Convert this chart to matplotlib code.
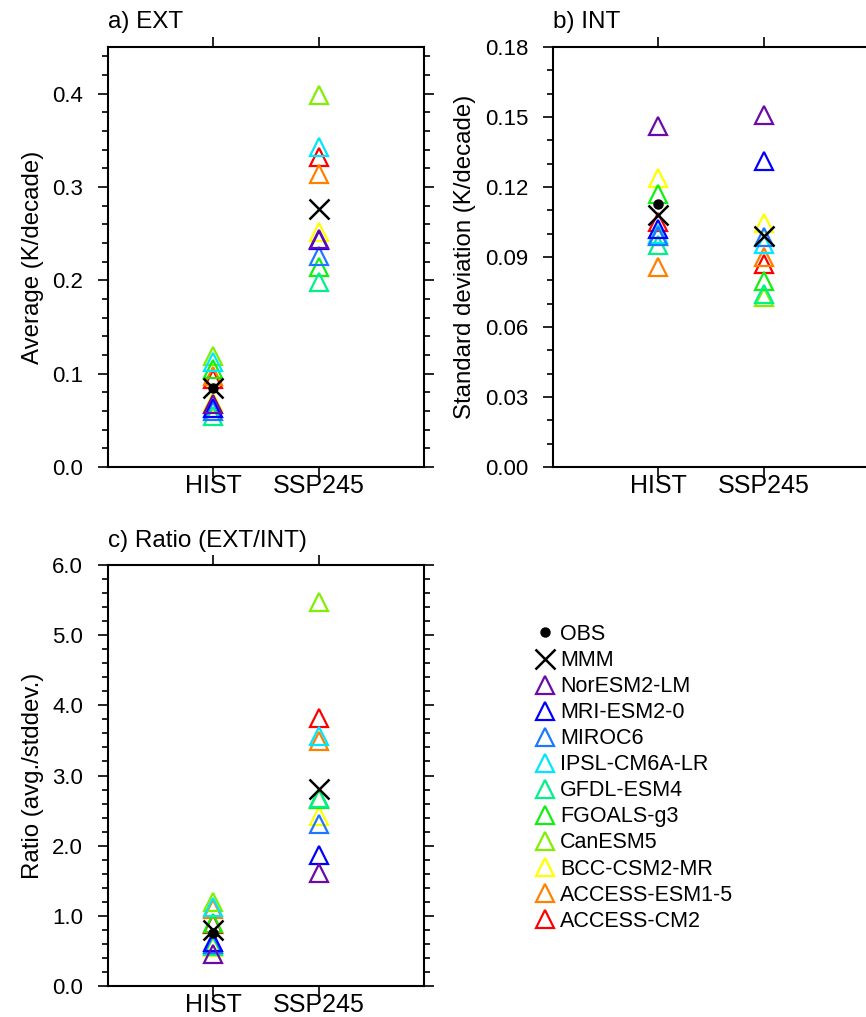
import matplotlib
matplotlib.use("Agg")
import matplotlib.pyplot as plt
from matplotlib.ticker import MultipleLocator, FormatStrFormatter

plt.rcParams['font.family'] = ['Liberation Sans', 'DejaVu Sans']

# periods on the x axis
periods = ["HIST", "SSP245"]

# models, in legend order
models = ["NorESM2-LM", "MRI-ESM2-0", "MIROC6", "IPSL-CM6A-LR", "GFDL-ESM4",
          "FGOALS-g3", "CanESM5", "BCC-CSM2-MR", "ACCESS-ESM1-5", "ACCESS-CM2"]
colors = ["#6a0aa8", "#0000ff", "#1e78ff", "#00e6ff", "#00f08a",
          "#10f010", "#80f000", "#ffff00", "#ff8000", "#ff0000"]

# a) EXT average trend (K/decade): [HIST, SSP245] per model
ext_hist = [0.068, 0.063, 0.060, 0.113, 0.055, 0.105, 0.119, 0.070, 0.098, 0.094]
ext_ssp = [0.244, 0.243, 0.226, 0.343, 0.198, 0.214, 0.399, 0.252, 0.314, 0.332]
ext_mmm = [0.0845, 0.2765]
ext_obs = 0.085

# b) INT standard deviation (K/decade)
int_hist = [0.146, 0.102, 0.099, 0.100, 0.095, 0.117, 0.099, 0.124, 0.0855, 0.105]
int_ssp = [0.151, 0.131, 0.0986, 0.0956, 0.0742, 0.0797, 0.0727, 0.1044, 0.090, 0.087]
int_mmm = [0.108, 0.0988]
int_obs = 0.1127

# c) ratio EXT/INT
ratio_hist = [0.46, 0.62, 0.60, 1.12, 0.57, 0.90, 1.19, 0.56, 1.10, 0.88]
ratio_ssp = [1.617, 1.866, 2.31, 3.56, 2.685, 2.66, 5.48, 2.42, 3.49, 3.825]
ratio_mmm = [0.80, 2.806]
ratio_obs = 0.755

fig = plt.figure(figsize=(8.66, 10.17), dpi=100)
axa = fig.add_axes([0.1247, 0.5408, 0.3649, 0.4130])
axb = fig.add_axes([553 / 866, 0.5408, 0.3649, 0.4130])
axc = fig.add_axes([0.1247, 0.0305, 0.3649, 0.4139])

xpos = [1, 2]
handles = {}


def panel(ax, hist, ssp, mmm, obs, ymax, major, minor, fmt, title, ylabel, tpad):
    # draw last model first so legend-first models end on top
    for i in reversed(range(len(models))):
        h, = ax.plot(xpos, [hist[i], ssp[i]], linestyle='none', marker='^',
                     ms=13, mfc='none', mec=colors[i], mew=1.6)
        handles[models[i]] = h
    h, = ax.plot(xpos, mmm, linestyle='none', marker='x', ms=14, color='black', mew=1.8)
    handles['MMM'] = h
    h, = ax.plot([1], [obs], linestyle='none', marker='o', ms=6.5, color='black')
    handles['OBS'] = h

    ax.set_xlim(0, 3)
    ax.set_ylim(0, ymax)
    ax.set_xticks(xpos)
    ax.set_xticklabels(periods, fontsize=18)
    ax.yaxis.set_major_locator(MultipleLocator(major))
    ax.yaxis.set_minor_locator(MultipleLocator(minor))
    ax.yaxis.set_major_formatter(FormatStrFormatter(fmt))
    ax.tick_params(axis='both', which='major', direction='out', length=7, width=1.2,
                   top=True, right=True, labelsize=16)
    ax.tick_params(axis='y', which='major', pad=11)
    ax.tick_params(axis='x', labelsize=18, pad=-2)
    ax.tick_params(axis='y', which='minor', direction='out', length=4.5, width=1.2,
                   left=True, right=True)
    for s in ax.spines.values():
        s.set_linewidth(1.5)
    ax.set_title(title, loc='left', fontsize=17.5, pad=tpad)
    ax.set_ylabel(ylabel, fontsize=17.3, labelpad=6)


panel(axa, ext_hist, ext_ssp, ext_mmm, ext_obs, 0.45, 0.1, 0.02, '%.1f',
      "a) EXT", "Average (K/decade)", 14)
panel(axb, int_hist, int_ssp, int_mmm, int_obs, 0.18, 0.03, 0.01, '%.2f',
      "b) INT", "Standard deviation (K/decade)", 14)
panel(axc, ratio_hist, ratio_ssp, ratio_mmm, ratio_obs, 6.0, 1.0, 0.2, '%.1f',
      "c) Ratio (EXT/INT)", "Ratio (avg./stddev.)", 13)

order = ['OBS', 'MMM'] + models
fig.legend([handles[k] for k in order], order, loc='upper left',
           bbox_to_anchor=(535 / 866, 1 - 624 / 1017), frameon=False,
           fontsize=15.5, numpoints=1, handlelength=0.9, handletextpad=0.25,
           labelspacing=0.235, borderpad=0, borderaxespad=0)

fig.savefig('out.png', dpi=100)
